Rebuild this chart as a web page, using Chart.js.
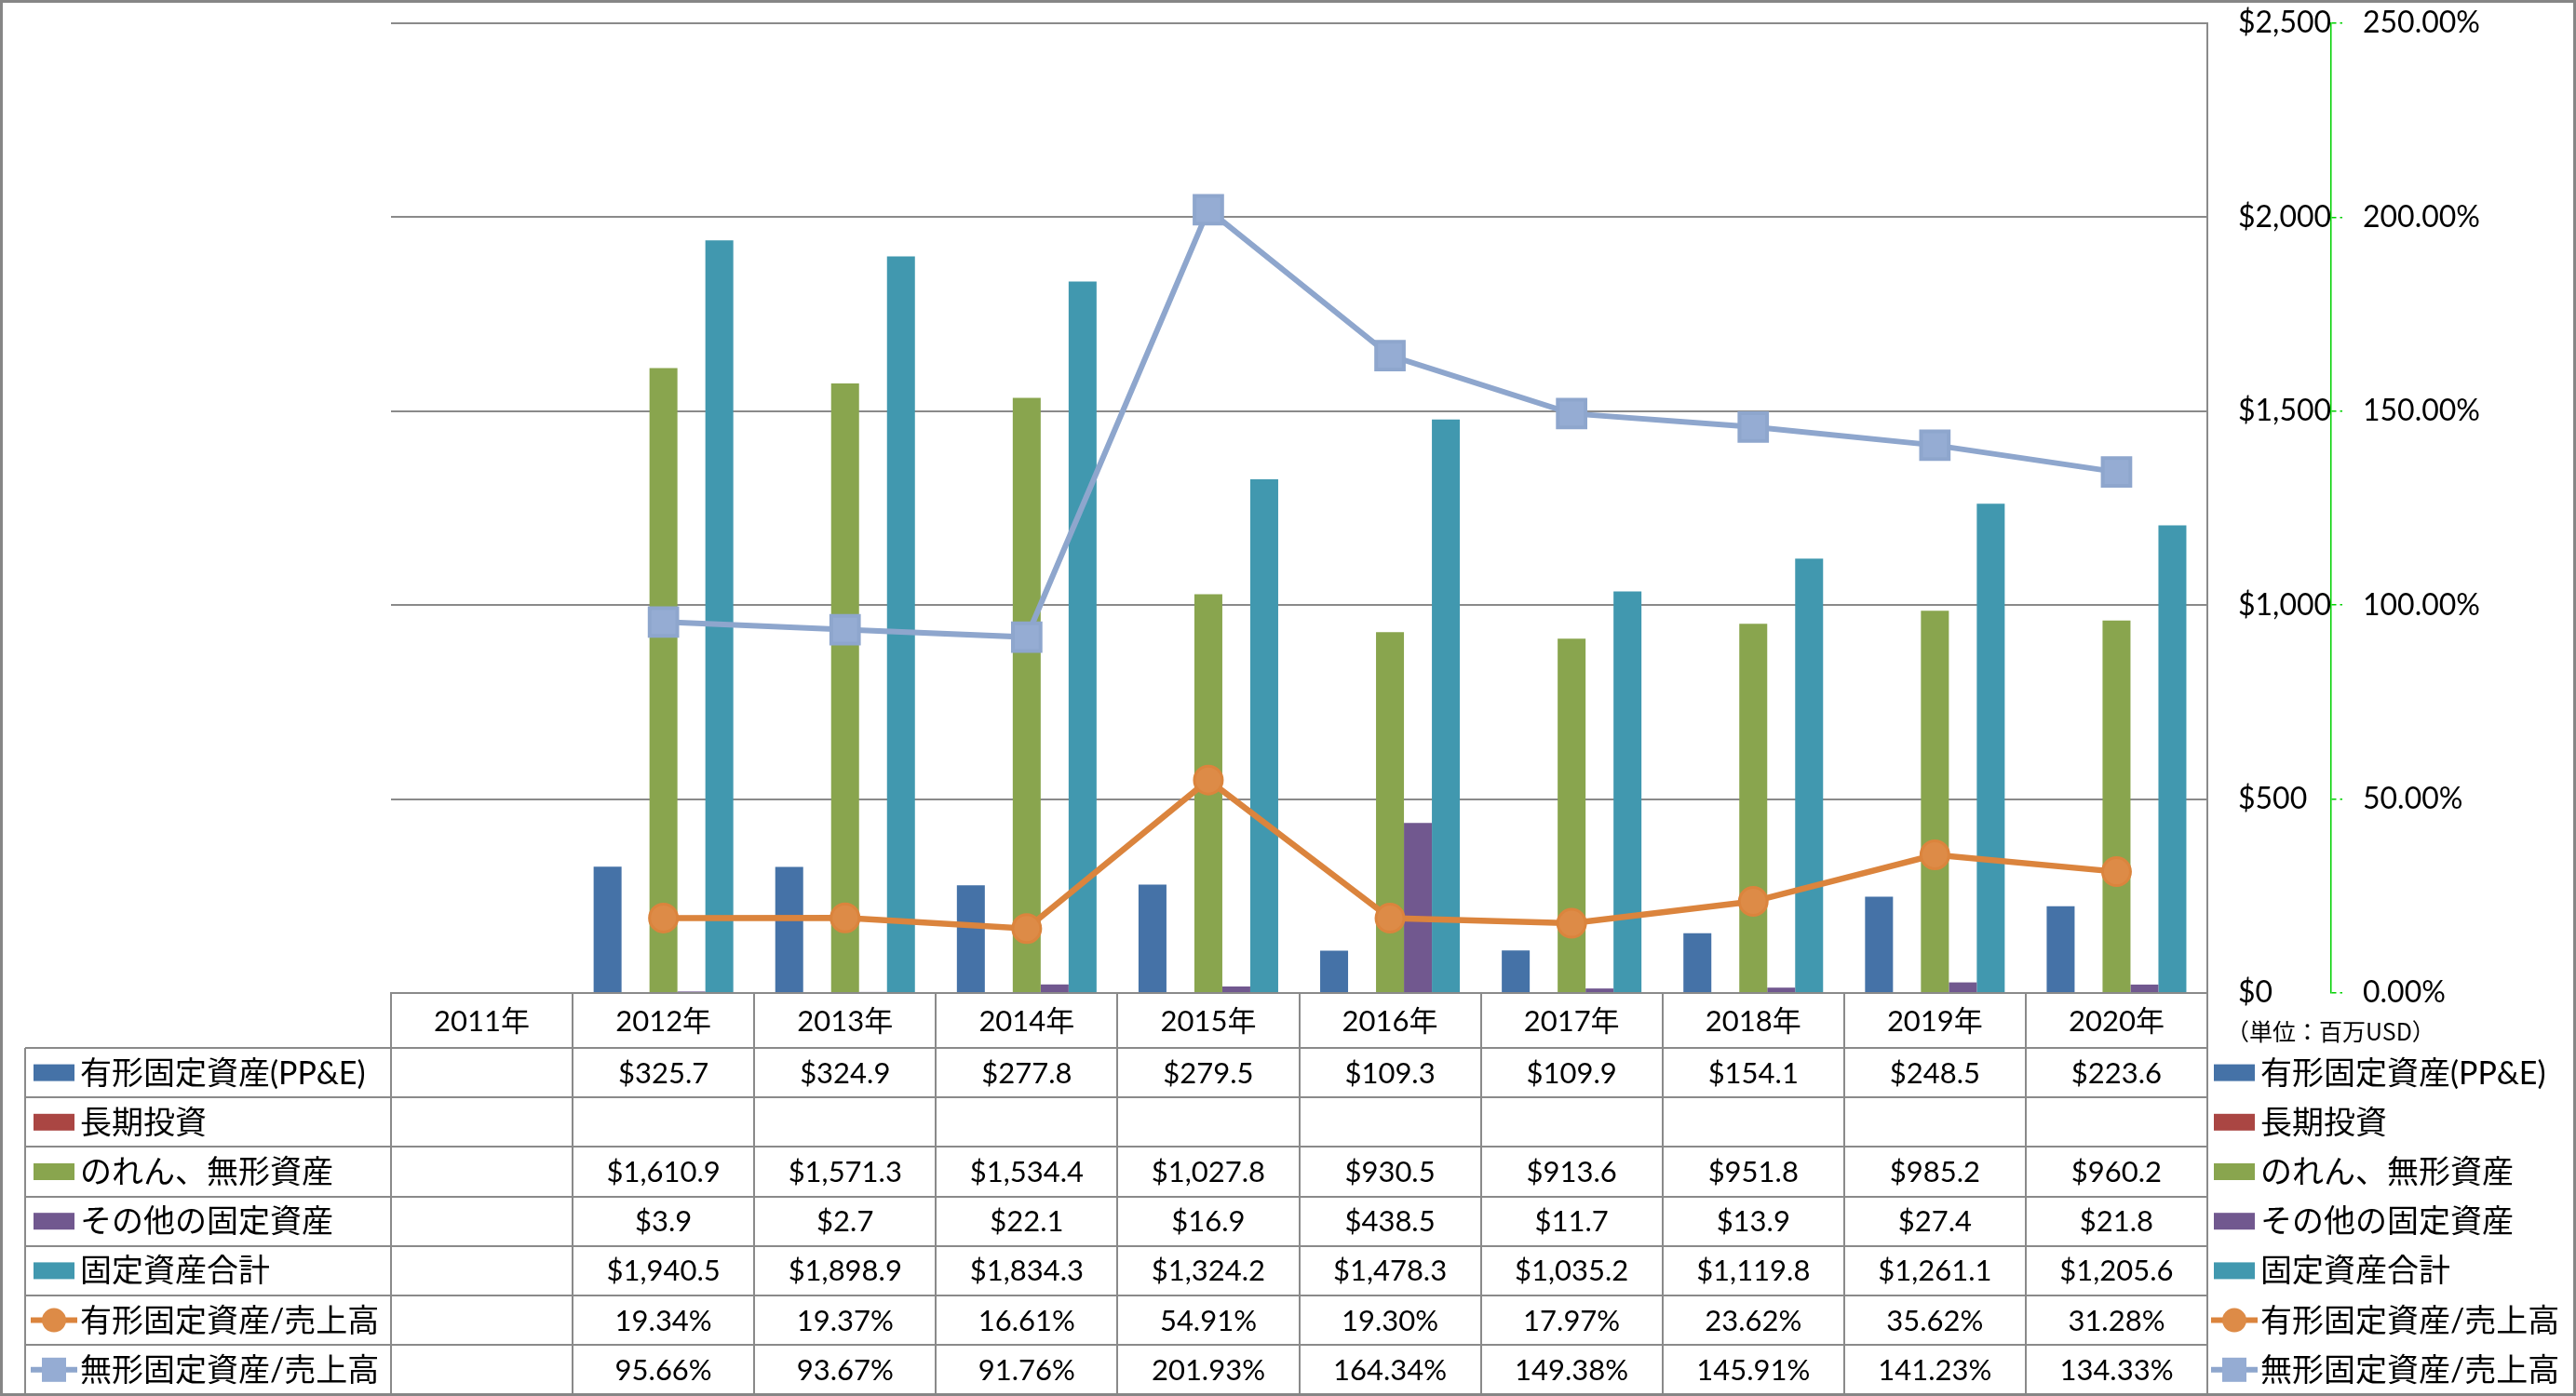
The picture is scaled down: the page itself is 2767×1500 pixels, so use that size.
<!DOCTYPE html>
<html>
<head>
<meta charset="utf-8">
<script src="https://cdn.jsdelivr.net/npm/chart.js@4.4.1/dist/chart.umd.min.js"></script>
<style>
  html, body { margin: 0; padding: 0; background: #fff; }
</style>
</head>
<body>
<canvas id="chart" width="2767" height="1500"></canvas>
<script>
// Fixed assets chart (Excel style with data table)

const years = ["2011年", "2012年", "2013年", "2014年", "2015年", "2016年", "2017年", "2018年", "2019年", "2020年"];

const ppe = [null, 325.7, 324.9, 277.8, 279.5, 109.3, 109.9, 154.1, 248.5, 223.6];
const longTermInv = [null, null, null, null, null, null, null, null, null, null];
const goodwill = [null, 1610.9, 1571.3, 1534.4, 1027.8, 930.5, 913.6, 951.8, 985.2, 960.2];
const otherFixed = [null, 3.9, 2.7, 22.1, 16.9, 438.5, 11.7, 13.9, 27.4, 21.8];
const totalFixed = [null, 1940.5, 1898.9, 1834.3, 1324.2, 1478.3, 1035.2, 1119.8, 1261.1, 1205.6];
const ppeRatio = [null, 19.34, 19.37, 16.61, 54.91, 19.30, 17.97, 23.62, 35.62, 31.28];
const intangibleRatio = [null, 95.66, 93.67, 91.76, 201.93, 164.34, 149.38, 145.91, 141.23, 134.33];

const dollarTicks = [0, 500, 1000, 1500, 2000, 2500];
const pctTicks = [0, 50, 100, 150, 200, 250];
const unitNote = "（単位：百万USD）";

const GRID = '#8a8a8a';
const NUM_FONT = "Lato, 'Noto Sans CJK JP', sans-serif";
const JP_FONT = "Lato, 'Noto Sans CJK JP', sans-serif";

const fmtUSD = v => '$' + v.toLocaleString('en-US', { minimumFractionDigits: 1, maximumFractionDigits: 1 });
const fmtPct = v => v.toFixed(2) + '%';

const bar = (label, data, color) => ({
  type: 'bar', label, data, backgroundColor: color, borderWidth: 0,
  yAxisID: 'y', order: 1, fmt: fmtUSD,
  categoryPercentage: 0.769, barPercentage: 1.0
});

const datasets = [
  bar("有形固定資産(PP&E)", ppe, '#4572A7'),
  bar("長期投資", longTermInv, '#AA4643'),
  bar("のれん、無形資産", goodwill, '#89A54E'),
  bar("その他の固定資産", otherFixed, '#71588F'),
  bar("固定資産合計", totalFixed, '#4198AF'),
  {
    type: 'line', label: "有形固定資産/売上高", data: ppeRatio, yAxisID: 'y1', order: 0, fmt: fmtPct,
    borderColor: '#DB843D', borderWidth: 6.5, backgroundColor: '#DD8B47',
    pointStyle: 'circle', pointRadius: 15, pointBorderColor: '#DB843D', pointBorderWidth: 3,
    tension: 0
  },
  {
    type: 'line', label: "無形固定資産/売上高", data: intangibleRatio, yAxisID: 'y1', order: 0, fmt: fmtPct,
    borderColor: '#8EA6CD', borderWidth: 6, backgroundColor: '#95ACD3',
    pointStyle: 'rect', pointRadius: 21, pointBorderColor: '#8EA6CD', pointBorderWidth: 4,
    tension: 0
  }
];

// key swatch for legend column / right legend
function drawKey(ctx, ds, x, yc) {
  if (ds.type === 'line') {
    ctx.strokeStyle = ds.borderColor;
    ctx.lineWidth = 6;
    ctx.beginPath();
    ctx.moveTo(x, yc);
    ctx.lineTo(x + 50, yc);
    ctx.stroke();
    ctx.fillStyle = ds.backgroundColor;
    const cx = x + 25;
    if (ds.pointStyle === 'circle') {
      ctx.beginPath();
      ctx.arc(cx, yc, 13, 0, Math.PI * 2);
      ctx.fill();
    } else {
      ctx.fillRect(cx - 13, yc - 13, 26, 26);
    }
  } else {
    ctx.fillStyle = ds.backgroundColor;
    ctx.fillRect(x + 3, yc - 9, 44, 18);
  }
}

const dataTable = {
  id: 'dataTable',
  afterDraw(chart) {
    const ctx = chart.ctx;
    const xs = chart.scales.x;
    const area = chart.chartArea;
    const headerBottom = area.bottom + 59;
    const rowH = 53.2;
    const nRows = chart.data.datasets.length;
    const tableBottom = headerBottom + rowH * nRows;
    const catW = (area.right - area.left) / years.length;
    const labelLeft = 27;

    ctx.save();
    ctx.strokeStyle = GRID;
    ctx.lineWidth = 2;

    // vertical lines
    for (let k = 0; k <= years.length; k++) {
      const x = Math.round(area.left + k * catW);
      ctx.beginPath();
      ctx.moveTo(x, area.bottom);
      ctx.lineTo(x, tableBottom);
      ctx.stroke();
    }
    ctx.beginPath();
    ctx.moveTo(labelLeft, headerBottom);
    ctx.lineTo(labelLeft, tableBottom);
    ctx.stroke();

    // horizontal lines
    for (let i = 0; i <= nRows; i++) {
      const y = Math.round(headerBottom + i * rowH);
      ctx.beginPath();
      ctx.moveTo(labelLeft, y);
      ctx.lineTo(area.right, y);
      ctx.stroke();
    }

    // cells + legends
    ctx.textBaseline = 'middle';
    chart.data.datasets.forEach((ds, i) => {
      const yc = headerBottom + rowH * (i + 0.5);

      ctx.font = '31px ' + NUM_FONT;
      ctx.fillStyle = '#000';
      ctx.textAlign = 'center';
      ds.data.forEach((v, j) => {
        if (v === null) return;
        ctx.fillText(ds.fmt(v), xs.getPixelForValue(j), yc + 1);
      });

      ctx.textAlign = 'left';
      ctx.font = '34px ' + JP_FONT;
      drawKey(ctx, ds, 33, yc);
      ctx.fillStyle = '#000';
      ctx.fillText(ds.label, 86, yc + 1);

      drawKey(ctx, ds, area.right + 4, yc);
      ctx.fillStyle = '#000';
      ctx.font = '34px ' + JP_FONT;
      ctx.fillText(ds.label, area.right + 57, yc + 1);
    });

    // unit note
    ctx.font = "25px 'Noto Sans CJK JP', sans-serif";
    ctx.fillStyle = '#000';
    ctx.textAlign = 'left';
    ctx.fillText(unitNote, area.right + 20, area.bottom + 41);

    // outer frame
    ctx.strokeStyle = '#868686';
    ctx.lineWidth = 3;
    ctx.strokeRect(1.5, 1.5, chart.width - 3, chart.height - 3);
    ctx.restore();
  }
};

// keep tick label overhang from pushing the plot area down
function fixWidth(w) {
  return s => { s.width = w; s.paddingTop = 0; s.paddingBottom = 0; };
}

new Chart(document.getElementById('chart'), {
  data: { labels: years, datasets },
  options: {
    responsive: false,
    animation: false,
    layout: { padding: { left: 420, top: 22, right: 0, bottom: 0 } },
    plugins: {
      legend: { display: false },
      tooltip: { enabled: false }
    },
    scales: {
      x: {
        offset: true,
        grid: { display: false, drawTicks: false },
        border: { display: true, color: GRID, width: 2 },
        ticks: { color: '#000', font: { size: 31, family: NUM_FONT }, padding: 12, autoSkip: false, maxRotation: 0 },
        afterFit(s) { s.height = 433; s.paddingLeft = 0; s.paddingRight = 0; }
      },
      y: {
        position: 'right',
        weight: 0,
        min: 0,
        max: 2500,
        afterBuildTicks(s) { s.ticks = dollarTicks.map(v => ({ value: v })); },
        ticks: {
          color: '#000',
          font: { size: 32, family: NUM_FONT },
          padding: 33,
          callback: v => '$' + v.toLocaleString('en-US')
        },
        grid: { color: GRID, lineWidth: 2, drawTicks: false },
        border: { display: true, color: GRID, width: 2 },
        afterFit: fixWidth(133)
      },
      y1: {
        position: 'right',
        weight: 1,
        min: 0,
        max: 250,
        afterBuildTicks(s) { s.ticks = pctTicks.map(v => ({ value: v })); },
        ticks: {
          color: '#000',
          font: { size: 32, family: NUM_FONT },
          padding: 22,
          callback: v => fmtPct(v)
        },
        grid: { drawOnChartArea: false, drawTicks: true, tickLength: 12, tickColor: '#00d000', tickBorderDash: [5, 4], lineWidth: 1.5 },
        border: { display: true, color: '#00d000', dash: [5, 4], width: 1.5 },
        afterFit: fixWidth(263)
      }
    }
  },
  plugins: [dataTable]
});
</script>
</body>
</html>
